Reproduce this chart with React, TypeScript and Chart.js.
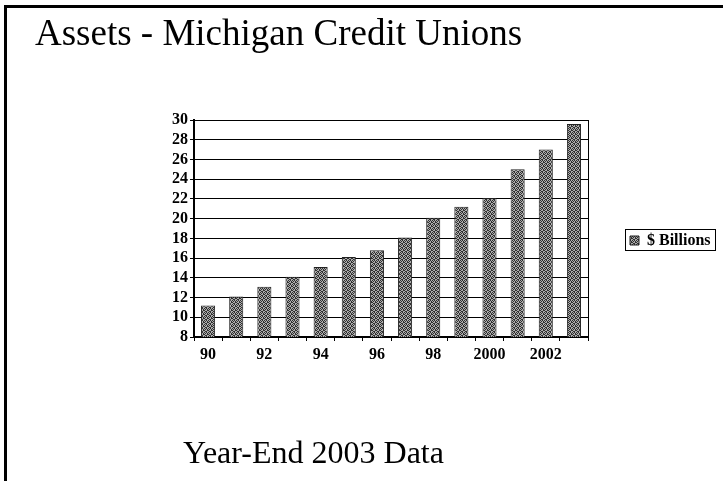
import React, { useEffect, useRef } from "react";
import { Chart, registerables } from "chart.js";

Chart.register(...registerables);

const years: string[] = ["90", "91", "92", "93", "94", "95", "96", "97", "98", "99", "2000", "2001", "2002", "2003"];
const billions: number[] = [11.2, 12.1, 13.1, 14.1, 15.1, 16.1, 16.8, 18.1, 20.1, 21.2, 22.1, 25.0, 27.0, 29.6];
const seriesName = "$ Billions";
const titleText = "Assets - Michigan Credit Unions";
const subtitleText = "Year-End 2003 Data";
const yMin = 8;
const yMax = 30;
const yStep = 2;

function makePattern(): CanvasPattern | string {
  const pc = document.createElement("canvas");
  pc.width = 4;
  pc.height = 4;
  const g = pc.getContext("2d");
  if (!g) return "#888";
  g.fillStyle = "#adadad";
  g.fillRect(0, 0, 4, 4);
  g.fillStyle = "#303030";
  const dots = [[0, 0], [2, 0], [1, 1], [3, 1], [3, 2], [0, 2], [2, 3], [1, 3]];
  dots.forEach(([x, y]) => g.fillRect(x, y, 1, 1));
  const p = g.createPattern(pc, "repeat");
  return p || "#888";
}

const decorPlugin = {
  id: "decor",
  afterDraw(chart: any) {
    const ctx = chart.ctx;
    const a = chart.chartArea;
    ctx.save();
    ctx.strokeStyle = "#000";
    ctx.lineWidth = 1;
    ctx.beginPath();
    ctx.moveTo(Math.round(a.right) + 0.5, a.top);
    ctx.lineTo(Math.round(a.right) + 0.5, a.bottom);
    ctx.stroke();
    const lg = chart.legend;
    if (lg && lg.legendHitBoxes && lg.legendHitBoxes.length) {
      const hb = lg.legendHitBoxes[0];
      ctx.lineWidth = 1;
      ctx.strokeRect(Math.round(hb.left) - 4.5, Math.round(hb.top) - 3.5, Math.round(hb.width) + 9, Math.round(hb.height) + 5);
    }
    ctx.restore();
  },
};

export default function App() {
  const ref = useRef<HTMLCanvasElement | null>(null);

  useEffect(() => {
    if (!ref.current) return;
    const pattern = makePattern();
    const font = "'Liberation Serif', 'Times New Roman', serif";
    const chart = new Chart(ref.current, {
      type: "bar",
      data: {
        labels: years,
        datasets: [
          {
            label: seriesName,
            data: billions,
            backgroundColor: pattern as any,
            borderColor: "#222",
            borderWidth: 1,
            barPercentage: 0.5,
            categoryPercentage: 1,
          },
        ],
      },
      options: {
        animation: false,
        responsive: false,
        maintainAspectRatio: false,
        layout: { padding: { left: 154, top: 120, right: 5, bottom: 120 } },
        plugins: {
          title: { display: false },
          tooltip: { enabled: false },
          legend: {
            display: true,
            position: "right",
            maxWidth: 130,
            labels: {
              color: "#000",
              boxWidth: 9,
              boxHeight: 9,
              padding: 42,
              font: { family: font, size: 16, weight: "bold" },
            },
          },
        },
        scales: {
          x: {
            offset: true,
            afterFit: (s: any) => {
              s.height = 24;
            },
            grid: {
              display: true,
              drawOnChartArea: false,
              drawTicks: true,
              tickLength: 4,
              color: "#000",
              offset: true,
            },
            border: { display: true, color: "#000", width: 2 },
            ticks: {
              autoSkip: false,
              maxRotation: 0,
              padding: 4,
              color: "#000",
              font: { family: font, size: 16, weight: "bold" },
              callback: (_v: any, i: number) => (i % 2 === 0 ? years[i] : ""),
            },
          },
          y: {
            min: yMin,
            max: yMax,
            afterFit: (s: any) => {
              s.width = 40;
            },
            grid: {
              display: true,
              drawOnChartArea: true,
              drawTicks: true,
              tickLength: 4,
              color: "#000",
              lineWidth: 1,
            },
            border: { display: true, color: "#000", width: 2 },
            ticks: {
              autoSkip: false,
              stepSize: yStep,
              padding: 2,
              color: "#000",
              font: { family: font, size: 16, weight: "bold" },
            },
          },
        },
      },
      plugins: [decorPlugin],
    });
    return () => chart.destroy();
  }, []);

  return (
    <div
      style={{
        position: "fixed",
        left: 0,
        top: 0,
        width: 723,
        height: 481,
        background: "#fff",
        overflow: "hidden",
      }}
    >
      <div
        style={{
          position: "absolute",
          left: 4,
          top: 5,
          width: 719,
          height: 476,
          borderTop: "3px solid #000",
          borderLeft: "3px solid #000",
          boxSizing: "border-box",
        }}
      />
      <canvas ref={ref} width={723} height={481} style={{ position: "absolute", left: 0, top: 0 }} />
      <div
        style={{
          position: "absolute",
          left: 35,
          top: 14,
          fontFamily: "'Liberation Serif', 'Times New Roman', serif",
          fontSize: 37,
          lineHeight: 1,
          whiteSpace: "nowrap",
          color: "#000",
        }}
      >
        {titleText}
      </div>
      <div
        style={{
          position: "absolute",
          left: 183,
          top: 436,
          fontFamily: "'Liberation Serif', 'Times New Roman', serif",
          fontSize: 32,
          lineHeight: 1,
          whiteSpace: "nowrap",
          color: "#000",
        }}
      >
        {subtitleText}
      </div>
    </div>
  );
}
